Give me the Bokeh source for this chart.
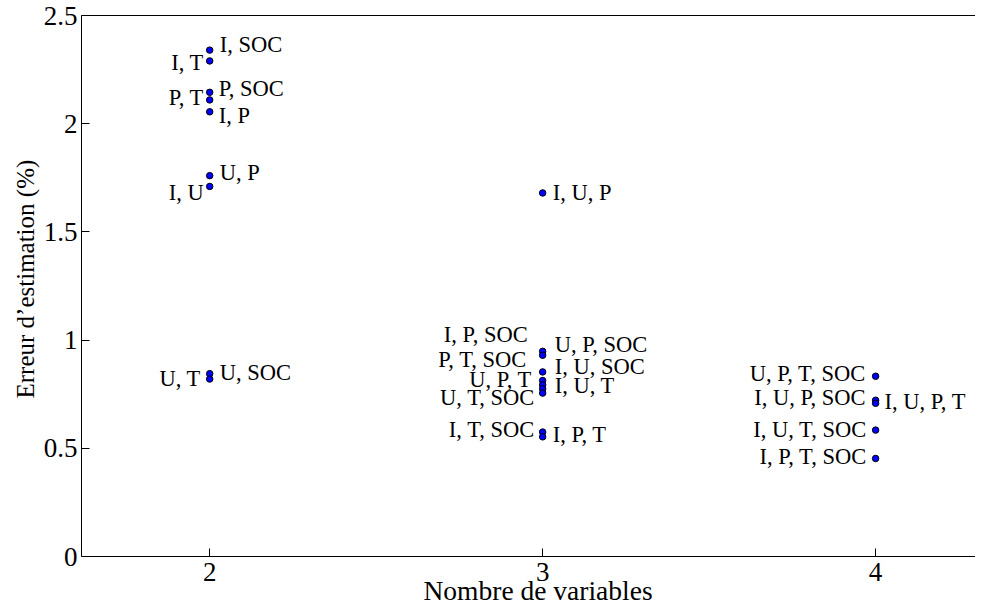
from bokeh.plotting import figure
from bokeh.models import FixedTicker, LinearAxis, ColumnDataSource, Range1d, Title
from bokeh.core.properties import value
from bokeh.embed import file_html
from bokeh.resources import INLINE

# ---- data ----
n_vars = [2, 2, 2, 2, 2, 2, 2, 2, 2,
          3, 3, 3, 3, 3, 3, 3, 3, 3, 3,
          4, 4, 4, 4, 4]
errors = [2.34, 2.29, 2.145, 2.11, 2.055, 1.76, 1.71, 0.845, 0.82,
          1.68, 0.948, 0.93, 0.853, 0.813, 0.793, 0.775, 0.755, 0.575, 0.553,
          0.833, 0.722, 0.708, 0.584, 0.453]
labels = ["I, SOC", "I, T", "P, SOC", "P, T", "I, P", "U, P", "I, U", "U, SOC", "U, T",
          "I, U, P", "I, P, SOC", "U, P, SOC", "P, T, SOC", "I, U, SOC", "U, P, T",
          "I, U, T", "U, T, SOC", "I, T, SOC", "I, P, T",
          "U, P, T, SOC", "I, U, P, SOC", "I, U, P, T", "I, U, T, SOC", "I, P, T, SOC"]
sides = ["R", "L", "R", "L", "R", "R", "L", "R", "L",
         "R", "L", "R", "L", "R", "L", "R", "L", "L", "R",
         "L", "L", "R", "L", "L"]

x_ticks = [2, 3, 4]
y_ticks = [0, 0.5, 1, 1.5, 2, 2.5]
y_tick_labels = ["0", "0.5", "1", "1.5", "2", "2.5"]
x_label = "Nombre de variables"
y_label = "Erreur d\u2019estimation (%)"

# ---- label placement (screen px: dx horizontal, dy upward) ----
label_dx = [10, -6, 9, -6, 9, 10, -6, 10, -9,
            10, -15, 12, -16, 12, -11, 12, -8, -8, 10,
            -10, -10, 9, -9, -9]
label_dy = [6, -2, 4, 2, -4, 3, -6, 1, 1,
            0, 17, 11, 12, 14, 5, 3, -4, 3, 2,
            3, 3, 2, 1, 2]

FONT = "Liberation Serif"
X0, X1 = 1.615, 4.3
Y0, Y1 = 0, 2.5

p = figure(width=975, height=606,
           x_range=Range1d(X0, X1), y_range=Range1d(Y0, Y1),
           output_backend="svg", toolbar_location=None,
           min_border_left=81, min_border_right=0,
           min_border_top=15, min_border_bottom=50,
           x_axis_type=None, y_axis_type=None)
p.outline_line_color = None
p.background_fill_color = "white"
p.border_fill_color = "white"

xa = LinearAxis(ticker=FixedTicker(ticks=x_ticks))
p.add_layout(xa, "below")

ya = LinearAxis(ticker=FixedTicker(ticks=y_ticks))
ya.major_label_overrides = {t: s for t, s in zip(y_ticks, y_tick_labels)}
p.add_layout(ya, "left")

for ax in (xa, ya):
    ax.major_tick_in = 8
    ax.major_tick_out = 0
    ax.minor_tick_line_color = None
    ax.axis_line_color = "black"
    ax.axis_line_width = 1
    ax.major_tick_line_color = "black"
    ax.major_label_text_font = FONT
    ax.major_label_text_font_size = "27px"
    ax.major_label_text_color = "black"
xa.major_label_standoff = 6
ya.major_label_standoff = 4

# axis titles in their own panels
xt = Title(text=x_label, align="left", offset=342,
           text_font=FONT, text_font_size="27.5px", text_font_style="normal",
           text_color="black", standoff=-22)
p.add_layout(xt, "below")
yt = Title(text=y_label, align="left", offset=158,
           text_font=FONT, text_font_size="25px", text_font_style="normal",
           text_color="black", standoff=3)
p.add_layout(yt, "left")

# top border line
ta = LinearAxis(ticker=FixedTicker(ticks=[]))
ta.major_tick_in = 0
ta.major_tick_out = 0
ta.minor_tick_line_color = None
ta.major_label_text_font_size = "0px"
ta.major_label_standoff = 0
ta.axis_line_color = "black"
p.add_layout(ta, "above")

# grid
p.xgrid.visible = False
p.ygrid.ticker = FixedTicker(ticks=[0.5, 1, 1.5, 2])
p.ygrid.grid_line_color = "#808080"
p.ygrid.grid_line_dash = "1 3"
p.ygrid.grid_line_width = 1

# labels
for side, align in (("R", "left"), ("L", "right")):
    idx = [i for i, s in enumerate(sides) if s == side]
    src = ColumnDataSource(dict(
        x=[n_vars[i] for i in idx],
        y=[errors[i] for i in idx],
        t=[labels[i] for i in idx],
        dx=[label_dx[i] for i in idx],
        dy=[-label_dy[i] for i in idx],
    ))
    p.text(x="x", y="y", text="t", source=src, x_offset="dx", y_offset="dy",
           text_align=align, text_baseline="middle",
           text_font=value(FONT), text_font_size="22.5px", text_color="black")

# points
pts = ColumnDataSource(dict(x=n_vars, y=errors))
p.scatter(x="x", y="y", source=pts, marker="circle", size=6.5,
          fill_color="#0000ff", line_color="black", line_width=1)

open("out.html", "w").write(file_html(p, INLINE))
